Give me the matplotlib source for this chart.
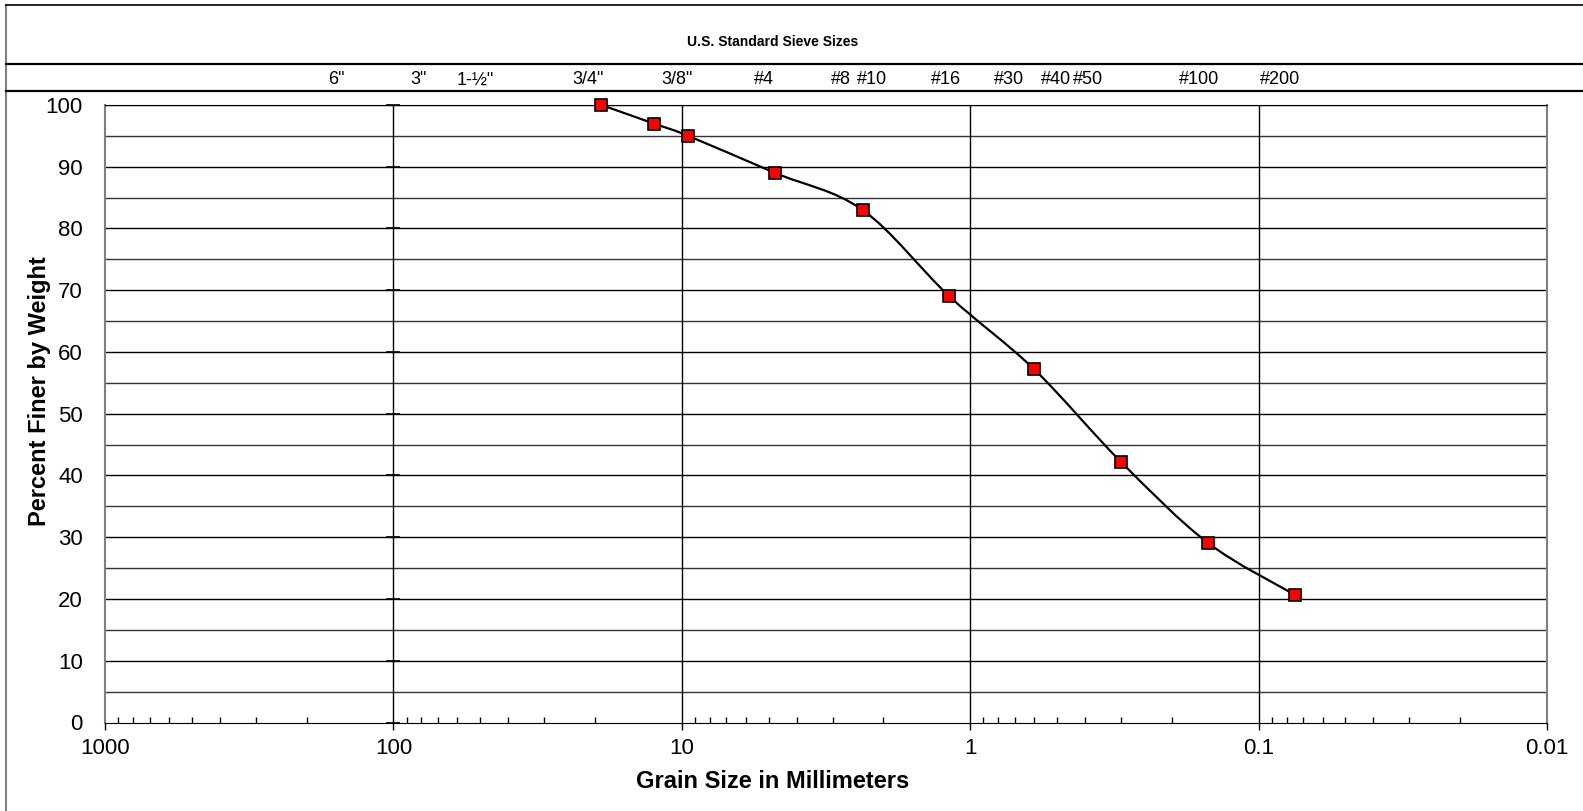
import matplotlib
matplotlib.use("Agg")
import numpy as np
import matplotlib.pyplot as plt
from matplotlib.path import Path
from matplotlib.patches import PathPatch
from matplotlib.lines import Line2D
from matplotlib import transforms
from matplotlib.ticker import FixedLocator, FixedFormatter, LogLocator, NullFormatter

plt.rcParams['font.family'] = ['Liberation Sans', 'DejaVu Sans']

# sieve analysis results
grain_mm = [19.0, 12.5, 9.5, 4.75, 2.36, 1.18, 0.6, 0.3, 0.15, 0.075]
pct_finer = [100, 97, 95, 89, 83, 69, 57.2, 42.2, 29.1, 20.7]

# labels in the top band (placed where the sheet had them, in mm)
sieve_names = ['6"', '3"', '1-½"', '3/4"', '3/8"', '#4', '#8', '#10', '#16',
               '#30', '#40', '#50', '#100', '#200']
sieve_label_pos = [158, 82, 52, 21.2, 10.4, 5.2, 2.81, 2.19, 1.21,
                   0.736, 0.504, 0.391, 0.161, 0.0843]

x_ticks = [1000, 100, 10, 1, 0.1, 0.01]
x_tick_labels = ['1000', '100', '10', '1', '0.1', '0.01']
y_ticks = list(range(0, 101, 10))


def smooth_path(xs, ys):
    # excel style smoothed line: bezier segments in (log x, y) space
    pts = np.column_stack([np.log10(xs), np.asarray(ys, float)])
    n = len(pts)
    verts = [pts[0]]
    codes = [Path.MOVETO]
    for i in range(n - 1):
        p0 = pts[max(i - 1, 0)]
        p1 = pts[i]
        p2 = pts[i + 1]
        p3 = pts[min(i + 2, n - 1)]
        verts += [p1 + (p2 - p0) / 6, p2 - (p3 - p1) / 6, p2]
        codes += [Path.CURVE4] * 3
    verts = np.array(verts)
    verts[:, 0] = 10 ** verts[:, 0]
    return Path(verts, codes)


W, H = 1583, 811
fig = plt.figure(figsize=(W / 100, H / 100), dpi=100)
left, right, top, bottom = 105, 1547, 105, 722.5
ax = fig.add_axes([left / W, 1 - bottom / H, (right - left) / W, (bottom - top) / H])

ax.set_xscale('log')
ax.set_xlim(1000, 0.01)
ax.set_ylim(0, 100)

# grid
for y in range(5, 101, 5):
    ax.axhline(y, color='black' if y % 10 == 0 else '#333333', lw=1.0, zorder=1)
for x in x_ticks[1:-1]:
    ax.axvline(x, color='black', lw=1.0, zorder=1)

# cross ticks where the value axis sits (at 100 mm)
ax.plot([100] * len(y_ticks), y_ticks, ls='none', marker='_', ms=10, mew=1.2,
        color='black', zorder=2, clip_on=False)

ax.xaxis.set_major_locator(FixedLocator(x_ticks))
ax.xaxis.set_major_formatter(FixedFormatter(x_tick_labels))
ax.xaxis.set_minor_locator(LogLocator(base=10, subs=np.arange(2, 10)))
ax.xaxis.set_minor_formatter(NullFormatter())
ax.tick_params(axis='x', which='major', direction='out', length=5, width=1,
               labelsize=16, pad=6)
ax.tick_params(axis='x', which='minor', direction='in', length=4, width=1)
ax.set_yticks(y_ticks)
ax.tick_params(axis='y', which='both', length=0, labelsize=16, pad=16)

for s in ['left', 'right']:
    ax.spines[s].set_color('#808080')
    ax.spines[s].set_linewidth(1.5)
ax.spines['top'].set_color('black')
ax.spines['bottom'].set_color('black')

ax.add_patch(PathPatch(smooth_path(grain_mm, pct_finer), fill=False,
                       edgecolor='black', lw=1.6, zorder=3))
ax.plot(grain_mm, pct_finer, ls='none', marker='s', ms=9, mfc='#ff0000',
        mec='black', mew=1.2, zorder=4, clip_on=False)

# frame and header band
fig.add_artist(Line2D([6 / W, 6 / W], [0, 1 - 5 / H], color='#808080', lw=1.5))
fig.add_artist(Line2D([6 / W, 1], [1 - 5 / H, 1 - 5 / H], color='black', lw=1.2))
for yb in [64, 91]:
    fig.add_artist(Line2D([6 / W, 1], [1 - yb / H, 1 - yb / H], color='black', lw=1.6))

fig.text(773 / W, 1 - 41.5 / H, 'U.S. Standard Sieve Sizes', ha='center', va='center',
         fontsize=10, fontweight='bold')

band = transforms.blended_transform_factory(ax.transData, fig.transFigure)
for name, pos in zip(sieve_names, sieve_label_pos):
    ax.text(pos, 1 - 80 / H, name, transform=band, ha='center', va='center',
            fontsize=13, clip_on=False)

fig.text(773 / W, 1 - 782 / H, 'Grain Size in Millimeters', ha='center', va='center',
         fontsize=17, fontweight='bold')
fig.text(40 / W, 1 - 391 / H, 'Percent Finer by Weight', ha='center', va='center',
         rotation=90, fontsize=17, fontweight='bold')

fig.savefig('out.png', dpi=100)
